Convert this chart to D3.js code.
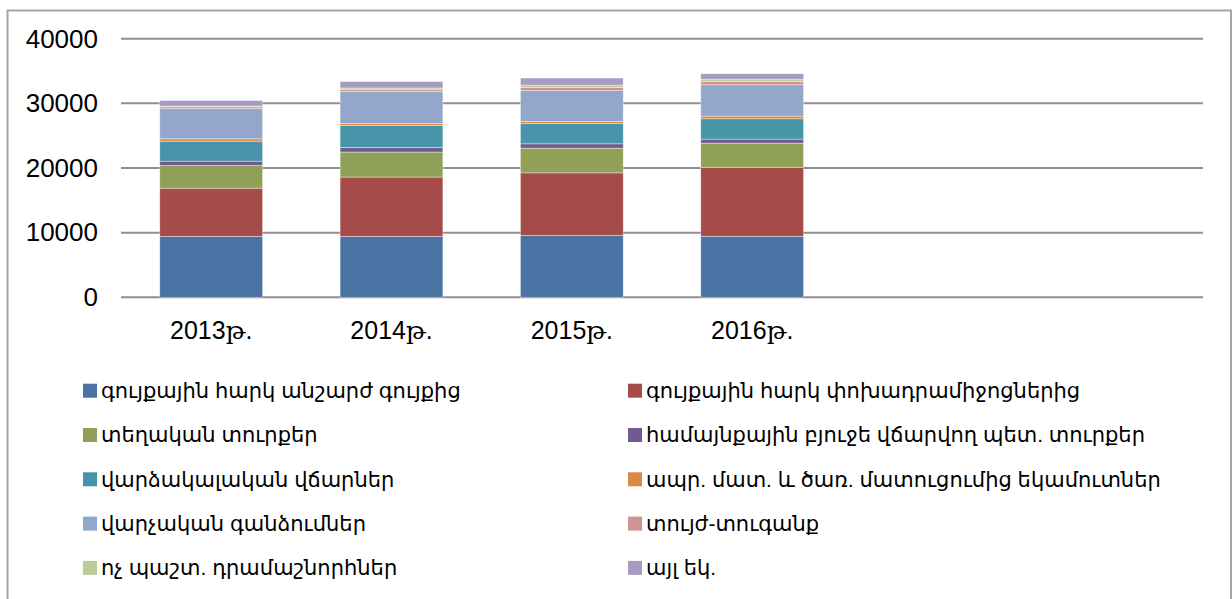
<!DOCTYPE html>
<html>
<head>
<meta charset="utf-8">
<script src="https://cdn.jsdelivr.net/npm/d3@7"></script>
<style>
	body { margin: 0; background: #fff; }
	svg text { font-family: "Liberation Sans", Arial, "DejaVu Sans", sans-serif; fill: #000; }
	svg .x.axis text { font-family: "Liberation Sans", Arial, "DejaVu Serif", serif; }
</style>
</head>
<body>
<div id="chart"></div>
<script>
// chart data
const years = ['2013թ.', '2014թ.', '2015թ.', '2016թ.'];
const emptySlots = ['_e1', '_e2'];
const seriesNames = [
	'գույքային հարկ անշարժ գույքից',
	'գույքային հարկ փոխադրամիջոցներից',
	'տեղական տուրքեր',
	'համայնքային բյուջե վճարվող պետ. տուրքեր',
	'վարձակալական վճարներ',
	'ապր. մատ. և  ծառ. մատուցումից եկամուտներ',
	'վարչական գանձումներ',
	'տույժ-տուգանք',
	'ոչ պաշտ. դրամաշնորհներ',
	'այլ եկ.',
];
const colors = ['#4a73a4', '#a54c4a', '#90a157', '#715a8e', '#4894a8', '#db8845', '#93a7ca', '#cf9393', '#bccb9a', '#a79bbf'];
const values = [
	[9400, 9400, 9550, 9450],
	[7480, 9200, 9700, 10620],
	[3500, 3870, 3820, 3780],
	[680, 720, 670, 620],
	[3090, 3400, 3140, 3140],
	[360, 310, 310, 420],
	[4690, 4960, 4800, 4840],
	[270, 310, 470, 520],
	[100, 210, 360, 360],
	[870, 980, 1090, 830],
];
const yTicks = [0, 10000, 20000, 30000, 40000];

(() => {
	const W = 1232;
	const H = 599;
	const margin = { top: 38.7, left: 121, right: 29, bottom: 301.7 };
	const width = W - margin.left - margin.right;
	const height = H - margin.top - margin.bottom;

	const svg = d3.select('#chart').append('svg')
		.attr('width', W)
		.attr('height', H);

	// outer frame
	svg.append('rect')
		.attr('x', 7.5)
		.attr('y', 10.5)
		.attr('width', 1223.5)
		.attr('height', 600)
		.attr('fill', 'none')
		.attr('stroke', '#a6a6a6')
		.attr('stroke-width', 2);

	const chart = svg.append('g')
		.attr('transform', `translate(${margin.left}, ${margin.top})`);

	const x = d3.scaleBand()
		.domain(years.concat(emptySlots))
		.range([0, width])
		.paddingInner(0.43)
		.paddingOuter(0.215);
	const y = d3.scaleLinear()
		.domain([0, 40000])
		.range([height, 0]);

	// gridlines
	chart.selectAll('.grid')
		.data(yTicks)
		.enter().append('line')
			.attr('class', 'grid')
			.attr('x1', 0)
			.attr('x2', width)
			.attr('y1', d => y(d))
			.attr('y2', d => y(d))
			.attr('stroke', '#8f8f8f')
			.attr('stroke-width', 2);

	// stack the series
	const rows = years.map((yr, i) => {
		const r = { year: yr };
		seriesNames.forEach((s, k) => { r[k] = values[k][i]; });
		return r;
	});
	const stack = d3.stack().keys(d3.range(seriesNames.length))(rows);

	chart.selectAll('.series')
		.data(stack)
		.enter().append('g')
			.attr('class', 'series')
			.attr('fill', (d, i) => colors[i])
		.selectAll('rect')
		.data(d => d)
		.enter().append('rect')
			.attr('x', d => x(d.data.year))
			.attr('width', x.bandwidth())
			.attr('y', d => y(d[1]))
			.attr('height', d => y(d[0]) - y(d[1]))
			.attr('stroke', 'rgba(255,255,255,0.55)')
			.attr('stroke-width', 0.7);

	// axes
	const yAxis = d3.axisLeft(y)
		.tickValues(yTicks)
		.tickFormat(d3.format('d'))
		.tickSize(0)
		.tickPadding(23);
	chart.append('g')
		.attr('class', 'y axis')
		.call(yAxis)
		.call(g => g.select('.domain').remove())
		.selectAll('text')
			.style('font-size', '26px');

	const xAxis = d3.axisBottom(x)
		.tickValues(years)
		.tickSize(0)
		.tickPadding(24);
	chart.append('g')
		.attr('class', 'x axis')
		.attr('transform', `translate(0, ${height})`)
		.call(xAxis)
		.call(g => g.select('.domain').remove())
		.selectAll('text')
			.style('font-size', '25px');

	// legend, two columns, row major
	const legend = svg.append('g').attr('class', 'legend');
	const colX = [83, 628];
	const rowY0 = 390.7;
	const rowStep = 44.3;
	const items = legend.selectAll('.item')
		.data(seriesNames)
		.enter().append('g')
			.attr('class', 'item')
			.attr('transform', (d, i) => `translate(${colX[i % 2]}, ${rowY0 + Math.floor(i / 2) * rowStep})`);
	items.append('rect')
		.attr('x', 0)
		.attr('y', -7)
		.attr('width', 14)
		.attr('height', 14)
		.attr('fill', (d, i) => colors[i]);
	items.append('text')
		.attr('x', 18)
		.attr('y', 0)
		.attr('dy', '0.35em')
		.style('font-size', '21px')
		.text(d => d);
})();
</script>
</body>
</html>
